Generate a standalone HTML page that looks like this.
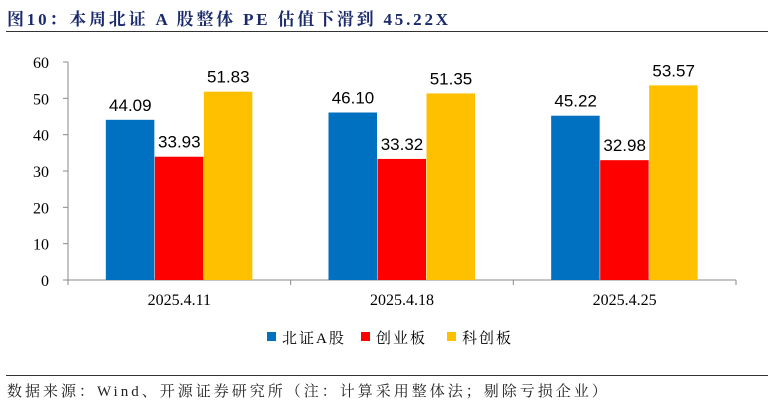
<!DOCTYPE html>
<html><head><meta charset="utf-8"><style>
body{margin:0;background:#fff;width:774px;height:405px;overflow:hidden;position:relative}
.t{position:absolute;white-space:nowrap}
</style></head><body>
<div class="t" style="left:7px;top:5px;font:bold 17px 'Liberation Serif','Noto Serif CJK SC',serif;color:#1a2a6c;letter-spacing:2.8px">图10：本周北证 A 股整体 PE 估值下滑到 45.22X</div>
<div style="position:absolute;left:6px;top:31px;width:762px;height:1px;background:#333"></div>
<svg id="c" width="774" height="405" style="position:absolute;left:0;top:0"></svg>
<div style="position:absolute;left:6px;top:375px;width:762px;height:1px;background:#333"></div>
<div class="t" style="left:7px;top:380px;font:15px 'Liberation Serif','Noto Serif CJK SC',serif;color:#222;letter-spacing:3px">数据来源：Wind、开源证券研究所（注：计算采用整体法；剔除亏损企业）</div>
<script>
const categories=["2025.4.11","2025.4.18","2025.4.25"];
const seriesNames=["北证A股","创业板","科创板"];
const bzA=[44.09,46.10,45.22];
const cyb=[33.93,33.32,32.98];
const kcb=[51.83,51.35,53.57];
const yTicks=[0,10,20,30,40,50,60];
const colors=["#0070c0","#ff0000","#ffc000"];
const svg=document.getElementById('c');const NS="http://www.w3.org/2000/svg";
const x0=68,x1=736,yB=280,yT=62,yMax=60;
const y=v=>yB-(v/yMax)*(yB-yT);
const gw=(x1-x0)/categories.length;
function mk(t,a){const e=document.createElementNS(NS,t);for(const k in a)e.setAttribute(k,a[k]);svg.appendChild(e);return e;}
let ax=mk('line',{x1:x0,y1:yT,x2:x0,y2:yB,stroke:'#888'});


let bx=mk('line',{x1:x0,y1:yB,x2:x1,y2:yB,stroke:'#888'});


yTicks.forEach(v=>{
 let tk=mk('line',{x1:x0-5,y1:y(v),x2:x0,y2:y(v),stroke:'#888'});
 
 
 let t=mk('text',{x:49,y:y(v)+6,'text-anchor':'end','font-family':'Liberation Serif, serif','font-size':'16',fill:'#000'});t.textContent=v;
 
 
});
for(let i=0;i<=categories.length;i++){
 let tk=mk('line',{x1:x0+gw*i,y1:yB,x2:x0+gw*i,y2:yB+5,stroke:'#888'});
 
 
}
const series=[bzA,cyb,kcb];const bw=49;
categories.forEach((c,i)=>{
 const cx=x0+gw*(i+0.5);
 series.forEach((s,j)=>{
  const bxp=cx-1.5*bw+j*bw;
  let r=mk('rect',{x:bxp,y:y(s[i]),width:bw-0.5,height:yB-y(s[i]),fill:colors[j]});
  
  
  let t=mk('text',{x:bxp+bw/2,y:y(s[i])-9,'text-anchor':'middle','font-family':'Liberation Sans, sans-serif','font-size':'17',fill:'#000'});
  t.textContent=s[i].toFixed(2);
  
  
 });
 let t=mk('text',{x:cx,y:305,'text-anchor':'middle','font-family':'Liberation Serif, serif','font-size':'16',fill:'#000'});t.textContent=c;
 
 
});
const lx=[267,361,447];
seriesNames.forEach((n,j)=>{
 let r=mk('rect',{x:lx[j],y:332,width:9,height:9,fill:colors[j]});
 
 
 let t=mk('text',{x:lx[j]+15,y:343,'font-family':'Liberation Serif, Noto Serif CJK SC, serif','font-size':'15','letter-spacing':'2',fill:'#000'});t.textContent=n;
 
 
});
</script>
</body></html>
